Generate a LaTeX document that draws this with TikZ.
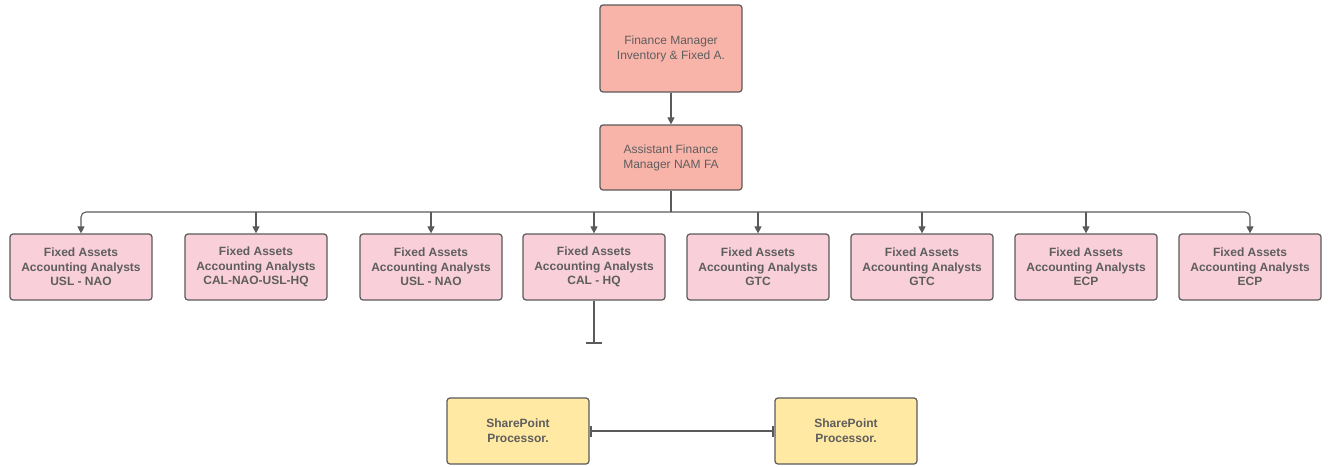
\documentclass[tikz,border=0pt]{standalone}
\usepackage{fontspec}
\setmainfont{Liberation Sans}
\usetikzlibrary{arrows.meta}
\definecolor{salmon}{HTML}{F9B4AA}
\definecolor{pinkbox}{HTML}{F9CFDA}
\definecolor{yellowbox}{HTML}{FFE9A3}
\definecolor{edge}{HTML}{5A5A5A}
\definecolor{txt}{HTML}{5E5E5E}
\tikzset{
  base/.style={draw=edge, line width=1.2pt, rounded corners=3pt, align=center,
    text=txt, font=\fontsize{12}{15}\selectfont, minimum width=142pt, inner sep=2pt},
  mgr/.style={base, fill=salmon},
  analyst/.style={base, fill=pinkbox, minimum height=66pt, font=\fontsize{12}{14.5}\selectfont\bfseries},
  spbox/.style={base, fill=yellowbox, minimum height=66pt, font=\fontsize{12}{15}\selectfont\bfseries},
  conn/.style={draw=edge, line width=1.1pt},
  arr/.style={conn, -{Triangle[length=7pt,width=7pt]}},
}
\begin{document}
\begin{tikzpicture}[x=1pt,y=-1pt]
\useasboundingbox (0,0) rectangle (1329,466);
\node[mgr, minimum height=87pt] (fm) at (671,48.5) {Finance Manager\\Inventory \& Fixed A.};
\node[mgr, minimum height=65pt] (afm) at (671,157.5) {Assistant Finance\\Manager NAM FA};
\node[analyst] (r1) at (81,267) {Fixed Assets\\Accounting Analysts\\USL - NAO};
\node[analyst] (r2) at (256,267) {Fixed Assets\\Accounting Analysts\\CAL-NAO-USL-HQ};
\node[analyst] (r3) at (431,267) {Fixed Assets\\Accounting Analysts\\USL - NAO};
\node[analyst] (r4) at (594,267) {Fixed Assets\\Accounting Analysts\\CAL - HQ};
\node[analyst] (r5) at (758,267) {Fixed Assets\\Accounting Analysts\\GTC};
\node[analyst] (r6) at (922,267) {Fixed Assets\\Accounting Analysts\\GTC};
\node[analyst] (r7) at (1086,267) {Fixed Assets\\Accounting Analysts\\ECP};
\node[analyst] (r8) at (1250,267) {Fixed Assets\\Accounting Analysts\\ECP};
\node[spbox] (sp1) at (518,431) {SharePoint\\Processor.};
\node[spbox] (sp2) at (846,431) {SharePoint\\Processor.};
\draw[arr] (fm) -- (afm);
\coordinate (bus) at (671,212);
\draw[conn] (afm.south) -- (bus);
\draw[arr, rounded corners=5pt] (bus) -| (r1.north);
\draw[arr, rounded corners=5pt] (bus) -| (r8.north);
\foreach \n in {r2,r3,r4,r5,r6,r7}{
  \draw[arr] (\n.north |- bus) -- (\n.north);
}
\coordinate (stub) at (594,343);
\draw[conn] (r4.south) -- (stub);
\draw[conn] ([xshift=-8pt]stub) -- ([xshift=8pt]stub);
\draw[conn, {Bar[width=11pt,line width=2pt]}-{Bar[width=11pt,line width=2pt]}] (sp1.east) -- (sp2.west);
\end{tikzpicture}
\end{document}
